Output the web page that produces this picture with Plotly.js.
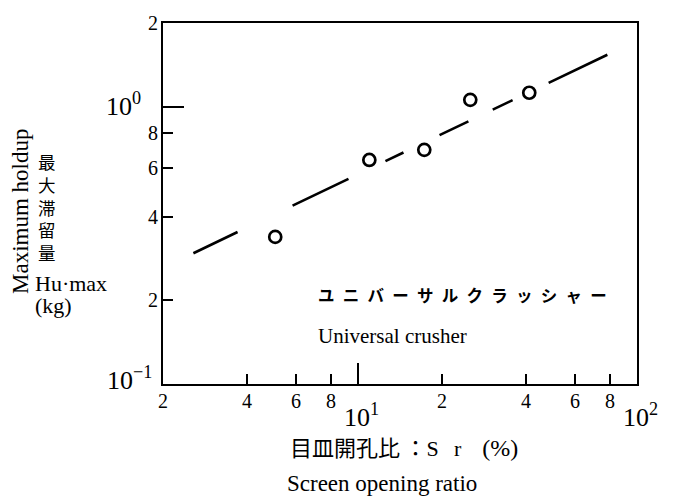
<!DOCTYPE html>
<html>
<head>
<meta charset="utf-8">
<script src="https://cdn.plot.ly/plotly-3.0.1.min.js"></script>
<style>
  html, body { margin: 0; padding: 0; background: #fff; }
  #chart { width: 675px; height: 497px; }
</style>
</head>
<body>
<div id="chart"></div>
<script>
// ---- data ----
const screenRatio = [5.05, 10.98, 17.28, 25.26, 41.1];   // Sr (%)
const maxHoldup   = [0.339, 0.642, 0.698, 1.057, 1.121]; // Hu·max (kg)
const fitX = [2.57, 78.3];
const fitY = [0.296, 1.537];

const xTickVals = [2, 4, 6, 8, 10, 20, 40, 60, 80, 100];
const xTickText = ['2', '4', '6', '8', '10<sup>1</sup>', '2', '4', '6', '8', '10<sup>2</sup>'];
const yTickVals = [0.1, 0.2, 0.4, 0.6, 0.8, 1, 2];
const yTickText = ['10<sup>−1</sup>', '2', '4', '6', '8', '10<sup>0</sup>', '2'];

const seriesLabelJa = 'ユニバーサルクラッシャー';
const seriesLabelEn = 'Universal crusher';
const xTitleJaMain = '目皿開孔比';
const xTitleJaSym = '：S\u2002\u2009r\u2002 \u2009';
const xTitleJaUnit = '(%)';
const xTitleEn = 'Screen opening ratio';
const yTitleEn = 'Maximum holdup';
const yTitleJa = '最大滞留量';
const yTitleSym = 'Hu·max';
const yTitleUnit = '(kg)';

// ---- layout helpers ----
const W = 675, H = 497;
const M = {l: 163, r: 38, t: 23, b: 113};
const PW = W - M.l - M.r, PH = H - M.t - M.b;
const px = v => (v - M.l) / PW;       // pixel -> paper x
const py = v => (H - M.b - v) / PH;   // pixel -> paper y

const SERIF = 'Liberation Serif, "Noto Sans CJK JP", serif';
const CJK = '"Noto Sans CJK JP", sans-serif';
const isPow = t => t.indexOf('<sup>') >= 0;
const isInt = v => Math.abs(Math.log10(v) - Math.round(Math.log10(v))) < 1e-9;

const interior = a => a.slice(1, -1);
const xMajor = interior(xTickVals).filter(isInt);
const xMinor = interior(xTickVals).filter(v => !isInt(v));
const yMajor = interior(yTickVals).filter(isInt);
const yMinor = interior(yTickVals).filter(v => !isInt(v));

const annotations = [];
xTickVals.forEach((v, i) => {
  const t = xTickText[i];
  if (isPow(t)) {
    annotations.push({xref: 'x', yref: 'paper', x: Math.log10(v), y: 0,
      xanchor: 'left', yanchor: 'top', xshift: -16, yshift: -13,
      text: t, showarrow: false, font: {family: SERIF, size: 26, color: '#000'}});
  } else {
    annotations.push({xref: 'x', yref: 'paper', x: Math.log10(v), y: 0,
      xanchor: 'center', yanchor: 'top', yshift: -4,
      text: t, showarrow: false, font: {family: SERIF, size: 20, color: '#000'}});
  }
});
yTickVals.forEach((v, i) => {
  const t = yTickText[i];
  if (isPow(t)) {
    annotations.push({xref: 'paper', yref: 'y', x: 0, y: Math.log10(v),
      xanchor: 'right', yanchor: 'middle', xshift: (v === 1 ? -20 : -9), yshift: (v === 1 ? 2 : 6),
      text: t, showarrow: false, font: {family: SERIF, size: 26, color: '#000'}});
  } else {
    annotations.push({xref: 'paper', yref: 'y', x: 0, y: Math.log10(v),
      xanchor: 'right', yanchor: 'middle', xshift: -3,
      text: t, showarrow: false, font: {family: SERIF, size: 20, color: '#000'}});
  }
});

// in-plot labels
annotations.push({xref: 'paper', yref: 'paper', x: px(316), y: py(295), xanchor: 'left', yanchor: 'middle',
  text: '<b>' + seriesLabelJa.split('').join('\u2002') + '</b>', showarrow: false,
  font: {family: CJK, size: 16.5, color: '#000'}});
annotations.push({xref: 'paper', yref: 'paper', x: px(316), y: py(336), xanchor: 'left', yanchor: 'middle',
  text: seriesLabelEn, showarrow: false, font: {family: SERIF, size: 21, color: '#000'}});

// x title
annotations.push({xref: 'paper', yref: 'paper', x: px(288), y: py(448), xanchor: 'left', yanchor: 'middle',
  text: xTitleJaMain + '\u2009' + xTitleJaSym + '<span style="font-size:24px">' + xTitleJaUnit + '</span>',
  showarrow: false, font: {family: SERIF, size: 22, color: '#000'}});
annotations.push({xref: 'paper', yref: 'paper', x: px(285), y: py(483), xanchor: 'left', yanchor: 'middle',
  text: xTitleEn, showarrow: false, font: {family: SERIF, size: 23, color: '#000'}});

// y title
annotations.push({xref: 'paper', yref: 'paper', x: px(20), y: py(212), xanchor: 'center', yanchor: 'middle',
  textangle: -90, text: yTitleEn, showarrow: false, font: {family: SERIF, size: 23, color: '#000'}});
annotations.push({xref: 'paper', yref: 'paper', x: px(47), y: py(207), xanchor: 'center', yanchor: 'middle',
  text: yTitleJa.split('').join('<br>'), showarrow: false, font: {family: CJK, size: 17.5, color: '#000'}});
annotations.push({xref: 'paper', yref: 'paper', x: px(33), y: py(283), xanchor: 'left', yanchor: 'middle',
  text: yTitleSym, showarrow: false, font: {family: SERIF, size: 22, color: '#000'}});
annotations.push({xref: 'paper', yref: 'paper', x: px(33), y: py(305), xanchor: 'left', yanchor: 'middle',
  text: yTitleUnit, showarrow: false, font: {family: SERIF, size: 22, color: '#000'}});

const traces = [
  {x: fitX, y: fitY, type: 'scatter', mode: 'lines', hoverinfo: 'skip',
   line: {color: '#000', width: 2.6, dash: '49px,61px,62px,41px,20px,40px,32px,27px,22px,40px,70px,200px'}},
  {x: screenRatio, y: maxHoldup, type: 'scatter', mode: 'markers',
   marker: {symbol: 'circle-open', size: 12, color: '#000', line: {width: 2.7, color: '#000'}}}
];

const axisCommon = {
  type: 'log', showgrid: false, zeroline: false, showline: true, mirror: true,
  linecolor: '#000', linewidth: 2, ticks: 'inside', tickcolor: '#000', tickwidth: 2,
  showticklabels: false, tickmode: 'array'
};

const layout = {
  width: W, height: H, margin: M, showlegend: false,
  paper_bgcolor: '#fff', plot_bgcolor: '#fff',
  xaxis: Object.assign({}, axisCommon, {
    range: [Math.log10(xTickVals[0]), Math.log10(xTickVals[xTickVals.length - 1])],
    tickvals: xMajor, ticklen: 21,
    minor: {tickmode: 'array', tickvals: xMinor, ticks: 'inside', ticklen: 10, tickwidth: 2, tickcolor: '#000', showgrid: false}
  }),
  yaxis: Object.assign({}, axisCommon, {
    range: [Math.log10(yTickVals[0]), Math.log10(yTickVals[yTickVals.length - 1])],
    tickvals: yMajor, ticklen: 21,
    minor: {tickmode: 'array', tickvals: yMinor, ticks: 'inside', ticklen: 10, tickwidth: 2, tickcolor: '#000', showgrid: false}
  }),
  annotations: annotations
};

Plotly.newPlot('chart', traces, layout, {displayModeBar: false, staticPlot: true});
</script>
</body>
</html>
